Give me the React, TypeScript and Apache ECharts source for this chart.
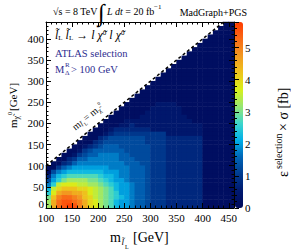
import React, { useEffect, useRef } from 'react';
import * as echarts from 'echarts';

const X_BIN_CENTERS = [105, 115, 125, 135, 145, 155, 165, 175, 185, 195, 205, 215, 225, 235, 245, 255, 265, 275, 285, 295, 305, 315, 325, 335, 345, 355, 365, 375, 385, 395, 405, 415, 425, 435, 445, 455];
const Y_BIN_CENTERS = [5, 15, 25, 35, 45, 55, 65, 75, 85, 95, 105, 115, 125, 135, 145, 155, 165, 175, 185, 195, 205, 215, 225, 235, 245, 255, 265, 275, 285, 295, 305, 315, 325, 335, 345, 355, 365, 375, 385, 395, 405, 415, 425, 435];

// cell codes -> epsilon x sigma [fb]; '.' = empty bin
const CODE_KEYS = '0123456789abcdefghijklm';
const CODE_VALUES = [0.15, 0.45, 0.75, 1.0, 1.25, 1.5, 1.75, 2.0, 2.25, 2.5, 2.75, 3.0, 3.25, 3.5, 3.75, 4.0, 4.25, 4.5, 4.75, 5.0, 5.25, 5.5, 5.7];

// rows from top (m_chi = 435) to bottom (m_chi = 5), columns m_slepton 105..455
const ROWS = [
  '...... ...... ...... ...... ...... ....00',
  '...... ...... ...... ...... ...... ...000',
  '...... ...... ...... ...... ...... ..0000',
  '...... ...... ...... ...... ...... .00000',
  '...... ...... ...... ...... ...... 000000',
  '...... ...... ...... ...... .....0 000000',
  '...... ...... ...... ...... ....00 000000',
  '...... ...... ...... ...... ...000 000000',
  '...... ...... ...... ...... ..0000 000000',
  '...... ...... ...... ...... .00000 000000',
  '...... ...... ...... ...... 000000 000000',
  '...... ...... ...... .....0 000000 000000',
  '...... ...... ...... ....00 000000 000000',
  '...... ...... ...... ...000 000000 000000',
  '...... ...... ...... ..0000 000000 000000',
  '...... ...... ...... .00000 000000 000000',
  '...... ...... ...... 000000 000000 000000',
  '...... ...... .....0 000000 000000 000000',
  '...... ...... ....00 000000 000000 000000',
  '...... ...... ...000 000111 100000 000000',
  '...... ...... ..0000 001111 110000 000000',
  '...... ...... .00000 011111 110000 000000',
  '...... ...... 000000 111111 111000 000000',
  '...... .....0 000111 111111 111100 000000',
  '...... ....00 001121 111111 111111 000000',
  '...... ...000 122222 221111 111111 000000',
  '...... ..0001 233333 333331 111111 000000',
  '...... .00023 444444 433332 222222 000000',
  '...... 000234 444444 433332 222222 000000',
  '.....0 012345 554444 443332 222222 000000',
  '....00 134555 555444 443332 222222 000000',
  '...001 345566 665544 443332 222222 000000',
  '..0023 556666 665554 443332 222222 000000',
  '.00235 666666 666555 443332 222222 000000',
  '003567 777777 666655 543332 222222 000000',
  '046788 888887 776655 543332 222222 000000',
  '2689aa aaaa98 876655 543332 222222 000000',
  '479bcc ccbba9 877655 543332 222222 000000',
  '69deee ddccba 987765 543332 222222 000000',
  '8dfggg ffedcb a87765 543332 222222 000000',
  '9ehiih hgedcb a97765 543332 222222 000000',
  'bgjkkj igfdcb a98765 543332 222222 000000',
  'chkllk jhfecb a87765 543332 222222 000000',
  'chklml jhfecb a87765 543332 222222 000000',
];

const DIAGONAL = [[100, 100], [440, 440]];
const PALETTE = ['#000a5c', '#00196f', '#003b8f', '#0064b6', '#00aee8', '#3cd6cc', '#96e672', '#d8f01a', '#eec41c', '#f29820', '#f86a16', '#ff3a00'];
const Z_MAX = 5.8;

const SERIF = '"Liberation Serif", "Times New Roman", serif';
const BLUE = '#2d2d8f';

function buildHeat() {
  const out: number[][] = [];
  const nY = Y_BIN_CENTERS.length;
  ROWS.forEach((raw, r) => {
    const row = raw.replace(/ /g, '');
    const yi = nY - 1 - r;
    for (let xi = 0; xi < X_BIN_CENTERS.length; xi++) {
      const k = CODE_KEYS.indexOf(row[xi]);
      if (k >= 0) out.push([xi, yi, CODE_VALUES[k]]);
    }
  });
  return out;
}

function txt(text: string, x: number, y: number, size: number, extra: any = {}) {
  return {
    type: 'text', x, y, silent: true, z: 20,
    style: { text, fontSize: size, fontFamily: SERIF, fill: '#000', textAlign: 'left', textVerticalAlign: 'middle', ...extra },
  };
}

const valueAxisCommon = {
  type: 'value',
  gridIndex: 0,
  z: 10,
  splitLine: { show: false },
  axisLine: { show: true, lineStyle: { color: '#000', width: 1 } },
  axisTick: { show: true, inside: true, length: 5, lineStyle: { color: '#000', width: 1 } },
  minorTick: { show: true, splitNumber: 5, length: 2.5, lineStyle: { color: '#000', width: 1 } },
};

export default function App() {
  const ref = useRef<HTMLDivElement>(null);
  useEffect(() => {
    document.body.style.margin = '0';
    const chart = echarts.init(ref.current!, null, { renderer: 'svg' });
    const option: any = {
      animation: false,
      textStyle: { fontFamily: SERIF },
      grid: [
        { left: 46, top: 22, width: 188, height: 186 },
        { left: 235, top: 22, width: 8, height: 186 },
      ],
      xAxis: [
        { type: 'category', gridIndex: 0, data: X_BIN_CENTERS, show: false },
        {
          ...valueAxisCommon, position: 'bottom', min: 100, max: 460, interval: 50,
          axisLabel: { show: true, fontSize: 11, color: '#000', fontFamily: SERIF, margin: 4, showMaxLabel: false },
        },
        { ...valueAxisCommon, position: 'top', min: 100, max: 460, interval: 50, axisLabel: { show: false } },
        { type: 'value', gridIndex: 1, show: false, min: 0, max: 1 },
      ],
      yAxis: [
        { type: 'category', gridIndex: 0, data: Y_BIN_CENTERS, show: false },
        {
          ...valueAxisCommon, position: 'left', min: 0, max: 440, interval: 50,
          axisLabel: { show: true, fontSize: 11, color: '#000', fontFamily: SERIF, margin: 2, showMaxLabel: false, showMinLabel: false },
        },
        { ...valueAxisCommon, position: 'right', min: 0, max: 440, interval: 50, axisLabel: { show: false } },
        {
          type: 'value', gridIndex: 1, position: 'right', min: 0, max: Z_MAX, interval: 1, z: 10,
          splitLine: { show: false },
          axisLine: { show: false },
          axisTick: { show: true, inside: false, length: 4, lineStyle: { color: '#000', width: 1 } },
          minorTick: { show: true, splitNumber: 5, length: 2, lineStyle: { color: '#000', width: 1 } },
          axisLabel: { show: true, fontSize: 11, color: '#000', fontFamily: SERIF, margin: 2, showMaxLabel: false },
        },
      ],
      visualMap: {
        type: 'continuous', seriesIndex: 0, min: 0, max: Z_MAX, calculable: false,
        orient: 'vertical', left: 235, top: 22, itemWidth: 8, itemHeight: 186, padding: 0,
        inRange: { color: PALETTE },
      },
      series: [
        {
          type: 'heatmap', xAxisIndex: 0, yAxisIndex: 0, data: buildHeat(), progressive: 0,
          itemStyle: { borderWidth: 0 }, emphasis: { disabled: true }, silent: true,
        },
        {
          type: 'line', xAxisIndex: 1, yAxisIndex: 1, data: DIAGONAL, symbol: 'none', silent: true, z: 5,
          lineStyle: { color: '#000', width: 1.5, type: [3, 2.5] },
        },
      ],
      graphic: [
        txt('0', 44, 204, 11, { textAlign: 'right' }),
        txt('√s = 8 TeV', 53, 11, 10),
        txt('∫', 98, 13, 24),
        {
          type: 'text', x: 107, y: 11, silent: true, z: 20,
          style: {
            text: '{i|L dt} = 20 fb', fontSize: 10, fontFamily: SERIF, fill: '#000', textVerticalAlign: 'middle',
            rich: { i: { fontStyle: 'italic', fontSize: 10, fontFamily: SERIF } },
          },
        },
        txt('−1', 154, 7, 7),
        txt('MadGraph+PGS', 247, 12, 10, { textAlign: 'right' }),
        {
          type: 'text', x: 55, y: 35, silent: true, z: 20,
          style: {
            text: '{i|l\u0303}{s|L} {i|l\u0303}{s|L} \u2192 {i|l \u03c7\u0303}{p|0}{i| l \u03c7\u0303}{p|0}',
            fontSize: 12, fontFamily: SERIF, fill: '#000', textVerticalAlign: 'middle',
            rich: {
              i: { fontStyle: 'italic', fontSize: 12, fontFamily: SERIF },
              s: { fontSize: 7, fontFamily: SERIF, verticalAlign: 'bottom' },
              p: { fontSize: 7, fontFamily: SERIF, verticalAlign: 'top' },
            },
          },
        },
        txt('ATLAS selection', 55, 53, 10.5, { fill: BLUE }),
        txt('M', 55, 69, 10.5, { fill: BLUE }),
        txt('R', 65, 65, 7, { fill: BLUE }),
        txt('Δ', 65, 73, 7, { fill: BLUE }),
        txt('> 100 GeV', 71, 69, 10.5, { fill: BLUE }),
        {
          type: 'group', x: 88, y: 116, rotation: 0.68, silent: true,
          children: [
            txt('m', -19, 0, 10),
            txt('l\u0303', -11, 3, 7, { fontStyle: 'italic' }),
            txt('L', -8, 5, 5),
            txt('= m', -5, 0, 10),
            txt('\u03c7\u0303', 11, 3, 7),
            txt('0', 15, -3, 5),
          ],
        },
        txt('m', 110, 237, 14),
        txt('l\u0303', 121.5, 242, 9, { fontStyle: 'italic' }),
        txt('L', 125, 247, 6),
        txt('[GeV]', 133, 237, 14),
        {
          type: 'group', x: 13, y: 128, rotation: Math.PI / 2, silent: true,
          children: [
            txt('m', 0, 0, 11),
            txt('\u03c7\u0303', 8.5, 3.5, 8),
            txt('0', 13, -3, 6),
            txt('[GeV]', 17, 0, 11),
          ],
        },
        {
          type: 'group', x: 283, y: 177, rotation: Math.PI / 2, silent: true,
          children: [
            txt('\u03b5', 0, 0, 14),
            txt('selection', 8, -5, 10),
            txt('\u00d7 \u03c3 [fb]', 46, 0, 14),
          ],
        },
      ],
    };
    chart.setOption(option);
    return () => chart.dispose();
  }, []);
  return <div ref={ref} style={{ width: 291, height: 252 }} />;
}
